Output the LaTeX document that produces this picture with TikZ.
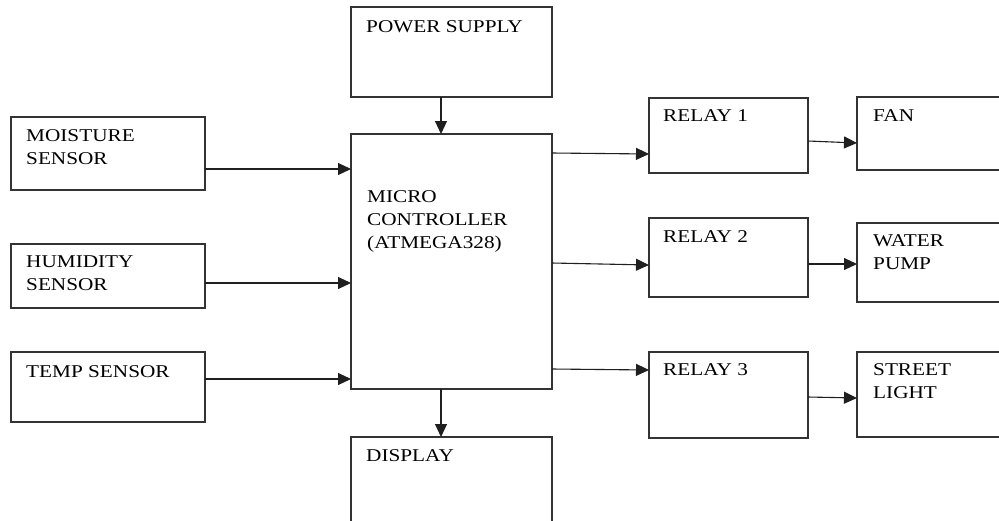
\documentclass[tikz,border=0pt]{standalone}
\usepackage{fontspec}
\setmainfont{Liberation Serif}[FakeStretch=1.18]
\usetikzlibrary{arrows.meta,calc}
\tikzset{
 blk/.style={draw=black!80, line width=1.3pt, anchor=north west, inner sep=0pt, outer sep=0pt},
 txt/.style={anchor=north west, inner sep=0pt, align=left, text=black, font=\fontsize{18}{23}\selectfont},
 arr/.style={draw=black!88, line width=1.1pt, -{Triangle[length=13pt,width=12pt]}}
}
\begin{document}
\begin{tikzpicture}[x=1pt,y=-1pt]
\useasboundingbox[fill=white] (0,0) rectangle (999,520);
\clip (0,0) rectangle (999,520);
% boxes
\node[blk, minimum width=201pt, minimum height=90pt] (ps) at (351,7) {};
\node[blk, minimum width=194pt, minimum height=73pt] (ms) at (11,117) {};
\node[blk, minimum width=194pt, minimum height=64pt] (hs) at (11,244) {};
\node[blk, minimum width=194pt, minimum height=70pt] (ts) at (11,352) {};
\node[blk, minimum width=201pt, minimum height=255pt] (mc) at (351,134) {};
\node[blk, minimum width=201pt, minimum height=100pt] (dp) at (351,437) {};
\node[blk, minimum width=159pt, minimum height=75pt] (r1) at (649,98) {};
\node[blk, minimum width=159pt, minimum height=79pt] (r2) at (649,218) {};
\node[blk, minimum width=159pt, minimum height=86pt] (r3) at (649,352) {};
\node[blk, minimum width=160pt, minimum height=73pt] (fan) at (857,97) {};
\node[blk, minimum width=160pt, minimum height=79pt] (wp) at (857,223) {};
\node[blk, minimum width=160pt, minimum height=85pt] (sl) at (857,352) {};
% texts
\node[txt] (pst) at (366,20) {POWER SUPPLY};
\node[txt] (mst) at (26,129) {MOISTURE\\SENSOR};
\node[txt] (hst) at (26,256) {HUMIDITY\\SENSOR};
\node[txt] (tst) at (26,365) {TEMP SENSOR};
\node[txt] (mct) at (367,190) {MICRO\\CONTROLLER\\(ATMEGA328)};
\node[txt] (dpt) at (366,449) {DISPLAY};
\node[txt] (r1t) at (663,109) {RELAY 1};
\node[txt] (r2t) at (663,230) {RELAY 2};
\node[txt] (r3t) at (663,363) {RELAY 3};
\node[txt] (fant) at (873,109) {FAN};
\node[txt] (wpt) at (873,234) {WATER\\PUMP};
\node[txt] (slt) at (873,363) {STREET\\LIGHT};
% connectors
\draw[arr] ($(ps.south west)+(90,0)$) -- ($(mc.north west)+(90,0)$);
\draw[arr] ($(mc.south west)+(90,0)$) -- ($(dp.north west)+(90,0)$);
\draw[arr] ($(ms.north east)+(0,52)$) -- ($(mc.north west)+(0,35)$);
\draw[arr] ($(hs.north east)+(0,39)$) -- ($(mc.north west)+(0,149)$);
\draw[arr] ($(ts.north east)+(0,27)$) -- ($(mc.north west)+(0,245)$);
\draw[arr] ($(mc.north east)+(0,19)$) -- ($(r1.north west)+(0,56)$);
\draw[arr] ($(mc.north east)+(0,129)$) -- ($(r2.north west)+(0,47)$);
\draw[arr] ($(mc.north east)+(0,235)$) -- ($(r3.north west)+(0,18)$);
\draw[arr] ($(r1.north east)+(0,43)$) -- ($(fan.north west)+(0,46)$);
\draw[arr] ($(r2.north east)+(0,46)$) -- ($(wp.north west)+(0,41)$);
\draw[arr] ($(r3.north east)+(0,45)$) -- ($(sl.north west)+(0,46)$);
\end{tikzpicture}
\end{document}
